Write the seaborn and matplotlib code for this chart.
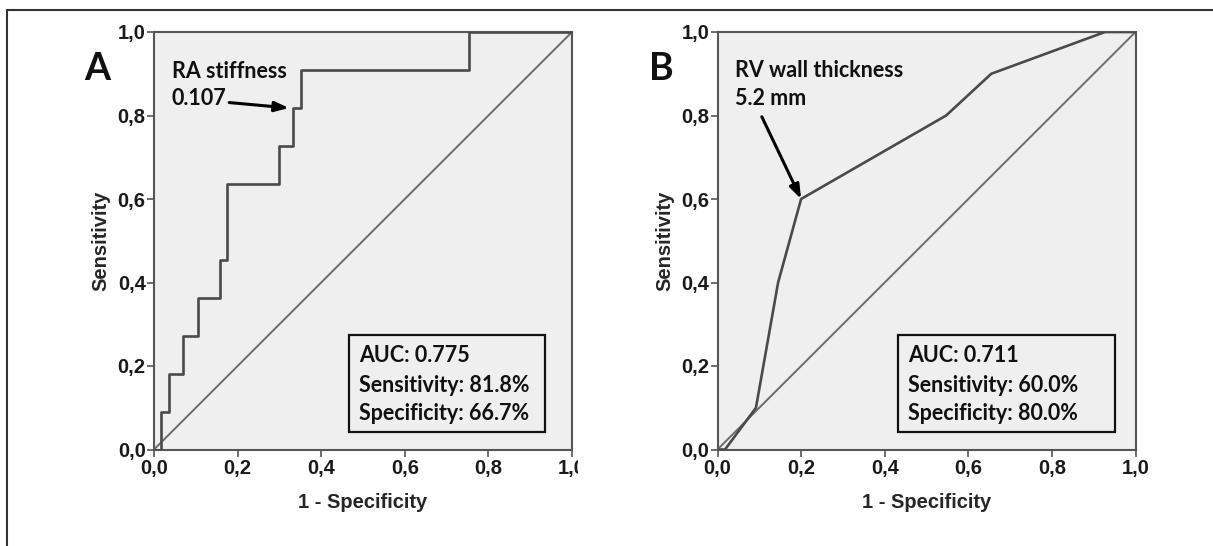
import matplotlib
matplotlib.use("Agg")
import matplotlib.pyplot as plt
from matplotlib.patches import Rectangle
from matplotlib.lines import Line2D
import seaborn as sns
import pandas as pd

# ROC coordinates (1 - specificity, sensitivity)
fpr_a = [0.0, 0.016, 0.016, 0.037, 0.037, 0.070, 0.070, 0.105, 0.105, 0.158, 0.158,
         0.175, 0.175, 0.298, 0.298, 0.333, 0.333, 0.351, 0.351, 0.754, 0.754, 1.0]
tpr_a = [0.0, 0.0, 0.091, 0.091, 0.182, 0.182, 0.273, 0.273, 0.364, 0.364, 0.455,
         0.455, 0.636, 0.636, 0.727, 0.727, 0.818, 0.818, 0.909, 0.909, 1.0, 1.0]

fpr_b = [0.0, 0.018, 0.092, 0.145, 0.200, 0.547, 0.655, 0.927, 1.0]
tpr_b = [0.0, 0.0, 0.100, 0.400, 0.600, 0.800, 0.900, 1.0, 1.0]

ref_line = [0.0, 1.0]

tick_values = [0.0, 0.2, 0.4, 0.6, 0.8, 1.0]
tick_labels = ["0,0", "0,2", "0,4", "0,6", "0,8", "1,0"]

panel_letters = ["A", "B"]
marker_names = ["RA stiffness", "RV wall thickness"]
cutoffs = ["0.107", "5.2 mm"]
cutoff_points = [(0.323, 0.818), (0.200, 0.600)]
auc_values = ["0.775", "0.711"]
sens_values = ["81.8%", "60.0%"]
spec_values = ["66.7%", "80.0%"]

sns.set_theme(style="white")
plt.rcParams["font.family"] = ["Liberation Sans", "DejaVu Sans"]

W, H = 1213, 546
fig = plt.figure(figsize=(W / 100, H / 100), dpi=100)
fig.patch.set_facecolor("white")

CURVE = "#4a4a4a"
DIAG = "#6c6c6c"
SPINE = "#555555"
NOTE_FONT = "Lato"
TICK_FS = 14.5
NOTE_FS = 15.5

def px_axes(left, top, width, height):
    return [left / W, (H - top - height) / H, width / W, height / H]

axes = [fig.add_axes(px_axes(154, 32, 418, 417.5)),
        fig.add_axes(px_axes(717.5, 32, 418, 417.5))]

curves = [pd.DataFrame({"fpr": fpr_a, "tpr": tpr_a}),
          pd.DataFrame({"fpr": fpr_b, "tpr": tpr_b})]
diag = pd.DataFrame({"x": ref_line, "y": ref_line})

text_pos = [dict(tx=0.042, ty1=0.891, ty2=0.826, tail=(0.180, 0.831)),
            dict(tx=0.042, ty1=0.892, ty2=0.825, tail=(0.106, 0.797))]
box_pos = [dict(x0=0.4665, x1=0.936, tx=0.490),
           dict(x0=0.4316, x1=0.9514, tx=0.455)]

for i, ax in enumerate(axes):
    ax.set_facecolor("#efefef")
    sns.lineplot(data=diag, x="x", y="y", ax=ax, color=DIAG, lw=1.4,
                 estimator=None, sort=False, zorder=2)
    sns.lineplot(data=curves[i], x="fpr", y="tpr", ax=ax, color=CURVE, lw=1.9,
                 estimator=None, sort=False, zorder=3)
    ax.set_xlim(0, 1)
    ax.set_ylim(0, 1)
    ax.set_xticks(tick_values)
    ax.set_yticks(tick_values)
    ax.set_xticklabels(tick_labels, fontsize=TICK_FS, fontweight="bold", color="#1a1a1a")
    ax.set_yticklabels(tick_labels, fontsize=TICK_FS, fontweight="bold", color="#1a1a1a")
    ax.tick_params(axis="x", direction="out", length=5, width=1.2, color=SPINE,
                   pad=2, bottom=True)
    ax.tick_params(axis="y", direction="out", length=5, width=1.2, color=SPINE,
                   pad=1, left=True)
    for s in ax.spines.values():
        s.set_color(SPINE)
        s.set_linewidth(1.5)
    ax.set_xlabel("1 - Specificity", fontsize=TICK_FS, fontweight="bold", labelpad=11)
    ax.set_ylabel("Sensitivity", fontsize=TICK_FS, fontweight="bold", labelpad=5)

    p = text_pos[i]
    ax.text(p["tx"], p["ty1"], marker_names[i], fontsize=NOTE_FS, family=NOTE_FONT,
            fontweight="bold", color="#111111", va="baseline", ha="left")
    ax.text(p["tx"], p["ty2"], cutoffs[i], fontsize=NOTE_FS, family=NOTE_FONT,
            fontweight="bold", color="#111111", va="baseline", ha="left")
    ax.annotate("", xy=cutoff_points[i], xytext=p["tail"],
                arrowprops=dict(arrowstyle="-|>,head_length=0.7,head_width=0.25",
                                color="black", lw=2.2, shrinkA=0, shrinkB=0),
                zorder=5)

    b = box_pos[i]
    ax.add_patch(Rectangle((b["x0"], 0.0426), b["x1"] - b["x0"], 0.2735 - 0.0426,
                           fill=False, edgecolor="#111111", lw=1.6, zorder=4))
    lines = [f"AUC: {auc_values[i]}", f"Sensitivity: {sens_values[i]}",
             f"Specificity: {spec_values[i]}"]
    for ty, s in zip([0.2096, 0.1384, 0.0716], lines):
        ax.text(b["tx"], ty, s, fontsize=NOTE_FS, family=NOTE_FONT, fontweight="bold",
                color="#111111", va="baseline", ha="left", zorder=5)

# panel letters
for cx, letter in zip([97.5, 661.5], panel_letters):
    fig.text(cx / W, 1 - 69 / H, letter, fontsize=27, family=NOTE_FONT,
             fontweight="bold", ha="center", va="center", color="#111111")

# outer frame: left and top edges
fig.add_artist(Line2D([6.5 / W, 6.5 / W], [0, 1 - 9.5 / H], transform=fig.transFigure,
                      color="#333333", lw=1.5))
fig.add_artist(Line2D([6.5 / W, 1], [1 - 9.5 / H, 1 - 9.5 / H], transform=fig.transFigure,
                      color="#333333", lw=1.5))

# last x tick label of the left panel is cut off at the panel boundary
clip = Rectangle((0, 0), 578 / W, 1, transform=fig.transFigure, visible=False)
fig.add_artist(clip)
lbl = axes[0].xaxis.get_major_ticks()[-1].label1
lbl.set_clip_on(True)
lbl.set_clip_path(clip)

fig.savefig("out.png", dpi=100)
